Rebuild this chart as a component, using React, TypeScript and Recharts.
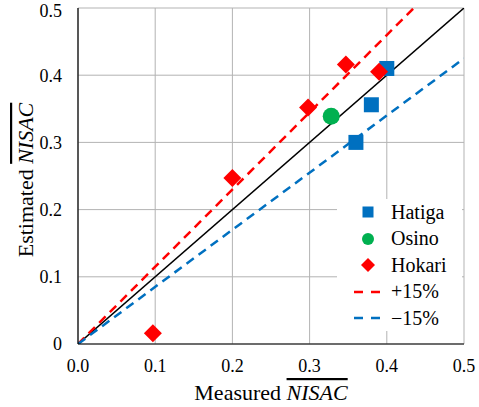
import React from "react";
import {
  ComposedChart,
  Scatter,
  Line,
  XAxis,
  YAxis,
  CartesianGrid,
  Legend,
  Label,
} from "recharts";

const FONT = "Liberation Serif";
const BLUE = "#0070C0";
const GREEN = "#00B050";
const RED = "#FF0000";

const ticks = [0, 0.1, 0.2, 0.3, 0.4, 0.5];

const hatiga = [
  { x: 0.36, y: 0.3 },
  { x: 0.38, y: 0.356 },
  { x: 0.4, y: 0.41 },
];
const osino = [{ x: 0.328, y: 0.339 }];
const hokari = [
  { x: 0.097, y: 0.016 },
  { x: 0.2, y: 0.247 },
  { x: 0.298, y: 0.352 },
  { x: 0.347, y: 0.416 },
  { x: 0.39, y: 0.405 },
];

// reference lines: 1:1, +15%, -15%
const equalLine = [
  { x: 0, y: 0 },
  { x: 0.5, y: 0.5 },
];
const plus15 = [
  { x: 0, y: 0 },
  { x: 0.435, y: 0.5 },
];
const minus15 = [
  { x: 0, y: 0 },
  { x: 0.5, y: 0.425 },
];

const legendItems = [
  { name: "Hatiga", kind: "square", color: BLUE },
  { name: "Osino", kind: "circle", color: GREEN },
  { name: "Hokari", kind: "diamond", color: RED },
  { name: "+15%", kind: "dash", color: RED },
  { name: "\u221215%", kind: "dash", color: BLUE },
];

const Square = (p: any) => (
  <rect x={p.cx - 7.5} y={p.cy - 7.5} width={15} height={15} fill={BLUE} />
);
const Circle = (p: any) => <circle cx={p.cx} cy={p.cy} r={8.5} fill={GREEN} />;
const Diamond = (p: any) => (
  <polygon
    points={`${p.cx},${p.cy - 9} ${p.cx + 9},${p.cy} ${p.cx},${p.cy + 9} ${p.cx - 9},${p.cy}`}
    fill={RED}
  />
);

function LegendMarker({ kind, color }: { kind: string; color: string }) {
  return (
    <svg width={30} height={20} style={{ display: "block" }}>
      {kind === "square" && <rect x={9.5} y={4.5} width={11} height={11} fill={color} />}
      {kind === "circle" && <circle cx={15} cy={10} r={6} fill={color} />}
      {kind === "diamond" && <polygon points="15,3 22,10 15,17 8,10" fill={color} />}
      {kind === "dash" && (
        <line x1={1} y1={10} x2={28} y2={10} stroke={color} strokeWidth={2.5} strokeDasharray="9 8" />
      )}
    </svg>
  );
}

function LegendBox() {
  return (
    <div style={{ background: "#fff", width: 125, height: 132, fontFamily: FONT }}>
      {legendItems.map((it) => (
        <div key={it.name} style={{ display: "flex", alignItems: "center", height: 26.5 }}>
          <div style={{ marginLeft: 16, width: 38 }}>
            <LegendMarker kind={it.kind} color={it.color} />
          </div>
          <span style={{ fontSize: 20, color: "#000", fontFamily: FONT }}>{it.name}</span>
        </div>
      ))}
    </div>
  );
}

const XTitle = (props: any) => {
  const { x, width } = props.viewBox;
  return (
    <text x={x + width / 2} y={400} textAnchor="middle" fontFamily={FONT} fontSize={22} fill="#000">
      Measured{" "}
      <tspan fontStyle="italic" style={{ textDecoration: "overline" }}>
        NISAC
      </tspan>
    </text>
  );
};

const YTitle = () => (
  <text
    x={25}
    y={180}
    transform="rotate(-90 25 180)"
    textAnchor="middle"
    dominantBaseline="central"
    fontFamily={FONT}
    fontSize={22}
    fill="#000"
  >
    Estimated{" "}
    <tspan fontStyle="italic" style={{ textDecoration: "overline" }}>
      NISAC
    </tspan>
  </text>
);

const tickStyle = { fontSize: 18, fill: "#000", fontFamily: FONT };

export default function App() {
  return (
    <div style={{ position: "absolute", left: 0, top: 0, background: "#fff", fontFamily: FONT }}>
      <ComposedChart width={479} height={407} margin={{ top: 8, right: 15, left: 0, bottom: 0 }}>
        <CartesianGrid stroke="#b3b3b3" strokeWidth={1} />
        <XAxis
          type="number"
          dataKey="x"
          domain={[0, 0.5]}
          ticks={ticks}
          height={63}
          tickSize={0}
          tickMargin={15}
          axisLine={{ stroke: "#000", strokeWidth: 1.2 }}
          tickFormatter={(v: number) => v.toFixed(1)}
          tick={tickStyle}
          allowDataOverflow
        >
          <Label content={XTitle} />
        </XAxis>
        <YAxis
          type="number"
          dataKey="y"
          domain={[0, 0.5]}
          ticks={ticks}
          width={78}
          tickSize={0}
          tickMargin={16}
          axisLine={{ stroke: "#000", strokeWidth: 1.2 }}
          tickFormatter={(v: number) => (v === 0 ? "0" : v.toFixed(1))}
          tick={tickStyle}
          allowDataOverflow
        >
          <Label content={YTitle} />
        </YAxis>
        <Line data={equalLine} dataKey="y" stroke="#000" strokeWidth={1.5} dot={false} isAnimationActive={false} legendType="none" />
        <Line data={plus15} dataKey="y" stroke={RED} strokeWidth={2.5} strokeDasharray="9 6" dot={false} isAnimationActive={false} legendType="none" />
        <Line data={minus15} dataKey="y" stroke={BLUE} strokeWidth={2.5} strokeDasharray="9 6" dot={false} isAnimationActive={false} legendType="none" />
        <Scatter name="Hatiga" data={hatiga} dataKey="y" shape={Square} isAnimationActive={false} />
        <Scatter name="Osino" data={osino} dataKey="y" shape={Circle} isAnimationActive={false} />
        <Scatter name="Hokari" data={hokari} dataKey="y" shape={Diamond} isAnimationActive={false} />
        <Legend
          layout="vertical"
          align="center"
          verticalAlign="middle"
          content={() => <LegendBox />}
          wrapperStyle={{ left: 337, top: 199, width: 125, height: 132 }}
        />
      </ComposedChart>
    </div>
  );
}
